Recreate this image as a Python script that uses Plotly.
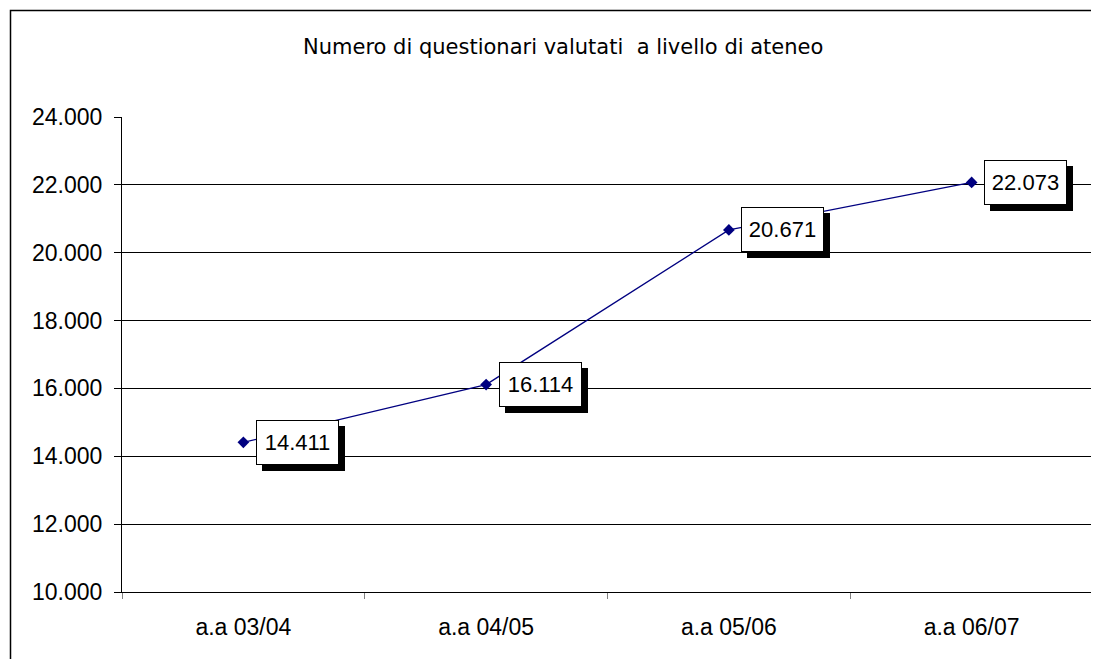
import plotly.graph_objects as go

categories = ["a.a 03/04", "a.a 04/05", "a.a 05/06", "a.a 06/07"]
values = [14411, 16114, 20671, 22073]
title_text = "Numero di questionari valutati  a livello di ateneo"

def fmt(v):
    return f"{v:,}".replace(",", ".")

# page has an 8px offset; figure coords = page coords - 8
OFF = 8
W, H = 1099 - OFF, 659 - OFF
ml = 122 - OFF
mt = 117 - OFF
mr = W - (1093 - OFF)
mb = H - (592 - OFF)
pw = W - ml - mr
ph = H - mt - mb

LIB = "Liberation Sans, Arial, sans-serif"

fig = go.Figure()
fig.add_trace(go.Scatter(
    x=categories, y=values, mode="lines+markers",
    line=dict(color="#000080", width=1.3),
    marker=dict(symbol="diamond", size=9, color="#000080"),
    showlegend=False, hoverinfo="skip"))

annots = []
for c, v in zip(categories, values):
    annots.append(dict(x=c, y=v, xref="x", yref="y", text=" ", showarrow=False,
                       xshift=54 + 6, yshift=-6,
                       font=dict(family=LIB, size=22, color="black"),
                       bgcolor="black", bordercolor="black", borderwidth=1, borderpad=2,
                       width=77, height=39))
for c, v in zip(categories, values):
    annots.append(dict(x=c, y=v, xref="x", yref="y", text=fmt(v), showarrow=False,
                       xshift=54, yshift=0,
                       font=dict(family=LIB, size=22, color="black"),
                       bgcolor="white", bordercolor="black", borderwidth=1, borderpad=2,
                       width=77, height=39))
annots.append(dict(x=(563 - OFF - ml) / pw, y=1 + (mt - (47 - OFF)) / ph,
                   xref="paper", yref="paper",
                   text=title_text, showarrow=False, xanchor="center", yanchor="middle",
                   font=dict(family="DejaVu Sans, sans-serif", size=21, color="black")))

fig.update_layout(
    width=W, height=H,
    margin=dict(l=ml, r=mr, t=mt, b=mb),
    paper_bgcolor="white", plot_bgcolor="white",
    separators=",.",
    annotations=annots,
    shapes=[dict(type="rect", xref="paper", yref="paper",
                 x0=(10.5 - OFF - ml) / pw, x1=1.2, y0=-0.5,
                 y1=1 + (mt - (10.5 - OFF)) / ph,
                 line=dict(color="black", width=1.5), fillcolor="rgba(0,0,0,0)", layer="below")],
    xaxis=dict(type="category", range=[-0.5, 3.5], showgrid=False,
               showline=True, linecolor="black", linewidth=1,
               ticks="outside", tickson="boundaries", ticklen=6, tickcolor="#808080",
               ticklabelstandoff=14,
               tickfont=dict(family=LIB, size=23, color="black"),
               zeroline=False, fixedrange=True),
    yaxis=dict(range=[10000, 24000], dtick=2000, tickformat=",d",
               showgrid=True, gridcolor="black", gridwidth=1,
               showline=True, linecolor="black", linewidth=1,
               ticks="outside", ticklen=7, tickcolor="black",
               ticklabelstandoff=7,
               tickfont=dict(family=LIB, size=23, color="black"),
               zeroline=False, fixedrange=True),
)

fig.write_html("out.html")
